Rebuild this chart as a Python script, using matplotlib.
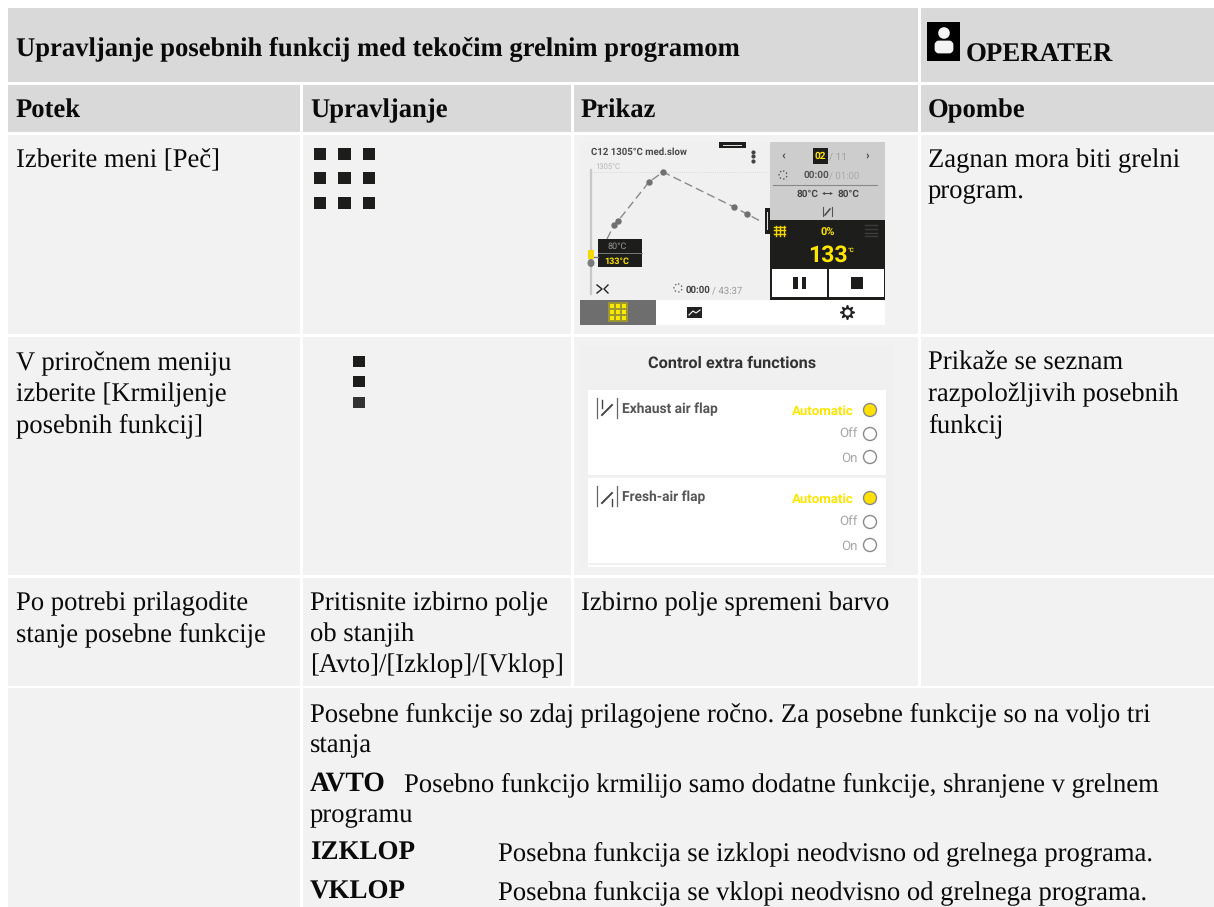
import matplotlib
matplotlib.use("Agg")
import matplotlib.pyplot as plt
from matplotlib.patches import Rectangle, Circle, Ellipse, FancyBboxPatch

W, H = 1214, 907
plt.rcParams['font.family'] = ['Liberation Serif', 'DejaVu Sans']
plt.rcParams['text.hinting'] = 'no_hinting'
plt.rcParams['text.hinting_factor'] = 8
EM = 26.6
SANS = ['Roboto', 'DejaVu Sans']

title = "Upravljanje posebnih funkcij med tekočim grelnim programom"
role = "OPERATER"
headers = ["Potek", "Upravljanje", "Prikaz", "Opombe"]
col1 = ["Izberite meni [Peč]",
        "V priročnem meniju\nizberite [Krmiljenje\nposebnih funkcij]",
        "Po potrebi prilagodite\nstanje posebne funkcije"]
col2_r3 = "Pritisnite izbirno polje\nob stanjih\n[Avto]/[Izklop]/[Vklop]"
col3_r3 = "Izbirno polje spremeni barvo"
col4 = ["Zagnan mora biti grelni\nprogram.",
        "Prikaže se seznam\nrazpoložljivih posebnih\nfunkcij"]
notes_intro = ["Posebne funkcije so zdaj prilagojene ročno. Za posebne funkcije so na voljo tri",
               "stanja"]
avto = ("AVTO", "Posebno funkcijo krmilijo samo dodatne funkcije, shranjene v grelnem", "programu")
izklop = ("IZKLOP", "Posebna funkcija se izklopi neodvisno od grelnega programa.")
vklop = ("VKLOP", "Posebna funkcija se vklopi neodvisno od grelnega programa.")
extra_title = "Control extra functions"
flaps = ["Exhaust air flap", "Fresh-air flap"]
states = ["Automatic", "Off", "On"]
curve_x = [607, 614, 618, 649, 663, 734, 747, 762]
curve_y = [239, 225, 221, 182, 172, 207, 214, 222]

fig = plt.figure(figsize=(W / 100, H / 100), dpi=100, facecolor='white')
ax = fig.add_axes([0, 0, 1, 1])
ax.set_xlim(0, W)
ax.set_ylim(H, 0)
ax.axis('off')

def box(x0, y0, x1, y1, c, z=1, **kw):
    ax.add_patch(Rectangle((x0, y0), x1 - x0, y1 - y0, fc=c, ec='none', zorder=z, **kw))

def txt(x, y, s, size=EM, weight='normal', color='#0a0a0a', family=None, ha='left', va='baseline', z=5):
    kw = {'family': family} if family else {}
    ax.text(x, y, s, fontsize=size * 0.72, fontweight=weight, color=color, ha=ha, va=va, zorder=z, **kw)

HD, BD = '#d9d9d9', '#f2f2f2'
xs = [(8, 300), (303, 571), (574, 918), (921, W)]
heads_x = [16, 310, 581, 928]
box(8, 8, 918, 82, HD); box(921, 8, W, 82, HD)
for x0, x1 in xs:
    box(x0, 85, x1, 132, HD)
    for y0, y1 in [(135, 334), (337, 575), (578, 686)]:
        box(x0, y0, x1, y1, BD)
box(8, 688, 300, H, BD)
box(303, 688, W, H, BD)

# headers
txt(16, 55, title, weight='bold')
box(927, 22, 960, 61, '#000000', z=3)
ax.add_patch(Circle((944, 33), 5.8, fc='#f4f4f4', ec='none', zorder=4))
ax.add_patch(FancyBboxPatch((936, 42), 16, 10, boxstyle='round,pad=0,rounding_size=3', fc='#f4f4f4', ec='#f4f4f4', lw=2, zorder=4))
txt(966, 62, role, size=26.9, weight='bold')
for x, h in zip(heads_x, headers):
    txt(x, 117.5, h, weight='bold')

# body text
def para(x, y, s, step=31):
    for i, line in enumerate(s.split('\n')):
        txt(x, y + i * step, line)

para(16, 167, col1[0])
para(16, 370, col1[1])
para(16, 610, col1[2])
para(310, 610, col2_r3)
para(581, 610, col3_r3)
para(928, 167, col4[0])
para(928, 370, col4[1])

# bottom notes
txt(310, 721, notes_intro[0])
txt(310, 752, notes_intro[1])
txt(310, 791, avto[0], size=27.6, weight='bold')
txt(404, 791, avto[1])
txt(310, 822, avto[2])
txt(310, 860, izklop[0], size=27.0, weight='bold')
txt(498, 860, izklop[1])
txt(310, 899, vklop[0], size=27.0, weight='bold')
txt(498, 899, vklop[1])

# operation icons
for cx in [320, 344.5, 369]:
    for cy in [154, 178, 203]:
        box(cx - 6.2, cy - 6.2, cx + 6.2, cy + 6.2, '#1d1d1b', z=3)
for cy, c in zip([361, 381, 402], ['#1d1d1b', '#1d1d1b', '#333333']):
    box(353, cy - 5.5, 365, cy + 5.5, c, z=3)

# --- screenshot 1 ---
OFF = '#f0f0f0'
box(580, 142, 885, 325, OFF, z=2)
box(770, 142, 885, 220, '#cdcdcd', z=3)
box(770, 220, 885, 300, '#1d1d1b', z=3)
box(772, 269, 827, 297, 'white', z=4); box(829, 269, 884, 297, 'white', z=4)
box(580, 300, 885, 325, 'white', z=3)
box(580, 300, 656, 325, '#6e6e6e', z=4)
box(719, 142, 746, 148, '#1d1d1b', z=4)
box(723, 144.5, 742, 146, '#dddddd', z=5)
box(765, 208, 770, 234, '#1d1d1b', z=4)
box(767, 212, 768.3, 230, '#dddddd', z=5)
ax.plot([591, 591], [170, 294], color='#c8c8c8', lw=1.6, zorder=3)
ax.plot([591, 768], [172, 172], color='#d0d0d0', lw=0.6, ls=':', zorder=3)
ax.plot(curve_x, curve_y, color='#8a8a8a', lw=1.0, ls=(0, (6, 3)), zorder=3)
ax.plot(curve_x[1:-1], curve_y[1:-1], ls='none', marker='o', ms=3.6, color='#707070', zorder=4)
txt(591, 155, "C12 1305°C med.slow", size=9.6, weight='bold', color='#4a4a4a', family=SANS)
txt(595, 169, "1305°C", size=7.6, color='#b5b5b5', family=SANS)
ax.plot([753, 753, 753], [152, 156, 161], ls='none', marker='o', ms=2, color='#444444', zorder=4)
box(598, 239, 642, 267, '#1d1d1b', z=4)
ax.plot([598, 642], [253, 253], color='#888888', lw=0.6, zorder=5)
txt(607, 249, "80°C", size=9, color='#9a9a9a', family=SANS)
txt(604, 264, "133°C", size=9, weight='bold', color='#ffe600', family=SANS)
ax.add_patch(Ellipse((591, 263), 7, 8, fc='#7a7a7a', ec='none', zorder=4))
ax.add_patch(Rectangle((588, 250), 6, 9, fc='#f5d800', ec='none', zorder=5))
ax.plot([594, 598], [257, 257], color='#777777', lw=1, zorder=4)
ax.plot([597, 602, 597], [285, 289, 293], color='#222222', lw=1, zorder=5)
ax.plot([608, 604, 608], [285, 289, 293], color='#222222', lw=1, zorder=5)
ax.add_patch(Circle((678, 288), 4, fc='none', ec='#666666', lw=1, ls=':', zorder=4))
txt(686, 293, "00:00", size=9.6, weight='bold', color='#444444', family=SANS)
txt(712, 293, "/ 43:37", size=9.6, color='#9a9a9a', family=SANS)
# right panel
txt(783, 159, "‹", size=12, weight='bold', color='#444444', family=SANS, ha='center')
txt(867, 159, "›", size=12, weight='bold', color='#444444', family=SANS, ha='center')
box(813, 148, 828, 164, '#1d1d1b', z=4)
txt(820.5, 159, "02", size=10, weight='bold', color='#ffe600', family=SANS, ha='center')
txt(829, 159, "/ 11", size=10, color='#a0a0a0', family=SANS)
ax.add_patch(Circle((783, 175), 4, fc='none', ec='#555555', lw=1, ls=':', zorder=4))
txt(804, 178, "00:00", size=10, weight='bold', color='#555555', family=SANS)
txt(829, 178, "/ 01:00", size=9.6, color='#a8a8a8', family=SANS)
ax.plot([773, 877], [185, 185], color='#888888', lw=0.8, zorder=4)
txt(797, 197, "80°C", size=10, weight='bold', color='#444444', family=SANS)
txt(838, 197, "80°C", size=10, weight='bold', color='#444444', family=SANS)
ax.annotate('', xy=(833, 193.5), xytext=(822, 193.5), arrowprops=dict(arrowstyle='<->', color='#444444', lw=0.7, mutation_scale=3, shrinkA=0, shrinkB=0), zorder=5)
ax.plot([823, 823], [207, 216], color='#555555', lw=0.8, zorder=4)
ax.plot([832, 832], [207, 216], color='#555555', lw=0.8, zorder=4)
ax.plot([825, 830], [215, 209], color='#444444', lw=1.1, zorder=4)
for yy in [226.5, 230, 233.5]:
    ax.plot([774, 785], [yy, yy], color='#f5d800', lw=1, zorder=5)
for xx in [775.5, 779.5, 783.5]:
    ax.plot([xx, xx], [226, 236], color='#f5d800', lw=1, zorder=5)
for yy in [225, 229, 233, 236]:
    ax.plot([865, 877], [yy, yy], color='#3c3c3c', lw=1, zorder=5)
txt(827.5, 236, "0%", size=11, weight='bold', color='#ffe600', family=SANS, ha='center')
txt(808.5, 262, "133", size=23, weight='bold', color='#ffe600', family=SANS)
txt(848, 252, "°C", size=6.5, weight='bold', color='#ffe600', family=SANS)
box(793, 277, 798, 289, '#1d1d1b', z=5); box(802, 277, 806, 289, '#1d1d1b', z=5)
box(851, 277, 863, 289, '#1d1d1b', z=5)
box(608, 302, 628, 322, '#9e9630', z=5)
for gx in [612, 618, 624]:
    for gy in [306, 312, 318]:
        box(gx - 2.1, gy - 2.1, gx + 2.1, gy + 2.1, '#fbe900', z=6)
box(687, 307, 702, 318, '#222222', z=5)
ax.plot([689, 693, 696, 700], [315, 311, 313, 310], color='white', lw=0.8, zorder=6)
ax.plot(847, 312, marker=(8, 1, 0), ms=10.5, color='#222222', zorder=5)
ax.plot(847, 312, marker='o', ms=3.5, color='white', zorder=6)

# --- screenshot 2 ---
box(580, 345, 895, 567, OFF, z=2)
box(588, 390, 886, 475, 'white', z=3)
box(588, 478, 886, 563, 'white', z=3)
box(588, 565, 886, 567, 'white', z=3)
txt(732.5, 368, extra_title, size=16.3, weight='bold', color='#333333', family=SANS, ha='center')
for k, top in enumerate([390, 478]):
    ax.plot([597, 597], [top + 8, top + 28], color='#666666', lw=0.9, zorder=4)
    ax.plot([617, 617], [top + 8, top + 28], color='#666666', lw=0.9, zorder=4)
    ax.plot([602, 612], [top + 25, top + 15], color='#444444', lw=1.4, zorder=4)
    if k == 0:
        ax.plot([602, 602], [top + 18, top + 10], color='#444444', lw=1, zorder=4)
    else:
        ax.plot([612, 612], [top + 28, top + 21], color='#444444', lw=1, zorder=4)
    txt(622, top + 23, flaps[k], size=13.7, weight='bold', color='#555555', family=SANS)
    for j, (s, base, cy, rx) in enumerate(zip(states, [25, 48, 72], [20, 44, 67], [854, 858, 858])):
        col = '#ffe600' if j == 0 else '#a8a8a8'
        txt(rx, top + base, s, size=13.3, weight='bold' if j == 0 else 'normal', color=col, family=SANS, ha='right')
        ax.add_patch(Circle((870, top + cy), 6.5, fc='#ffe000' if j == 0 else 'white', ec='#8a8a8a', lw=1, zorder=4))

fig.savefig('out.png', dpi=100, facecolor='white')
